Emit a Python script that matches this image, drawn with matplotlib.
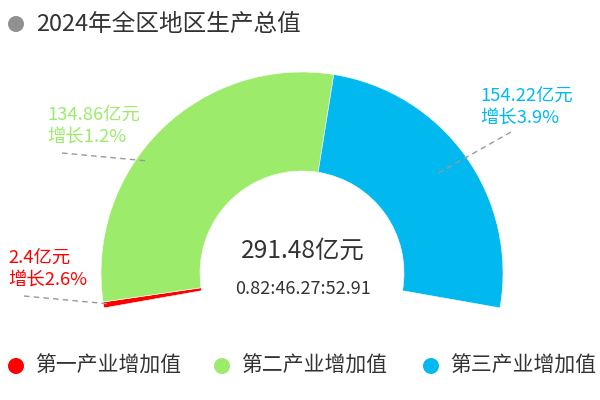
import matplotlib
matplotlib.use("Agg")
import matplotlib.pyplot as plt
from matplotlib.patches import Wedge, Circle
import numpy as np

plt.rcParams['font.family'] = ['Noto Sans CJK SC', 'DejaVu Sans']

# data
title = "2024年全区地区生产总值"
industries = ["第一产业增加值", "第二产业增加值", "第三产业增加值"]
values = [2.4, 134.86, 154.22]          # 亿元
growth = [2.6, 1.2, 3.9]                # %
# share of the 200 degree arc each sector takes, as drawn in the picture
arc_share = [0.85, 53.7, 45.45]
colors = ["#ff0000", "#9ceb6b", "#02b9ef"]

# layout (pixel coords, y measured from the top)
W, H = 600, 400
cx, cy = 302, 273
R_out, R_in = 201, 102
start_angle, span = 190, 200
label_pos = [(8, 258), (47, 115), (480, 96)]
leader = [((24, 296), (110, 304)), ((62, 153), (148, 161)), ((511, 132), (435, 175))]


def py(y):
    return H - y


fig = plt.figure(figsize=(6, 4), dpi=100)
ax = fig.add_axes([0, 0, 1, 1])
ax.set_xlim(0, W)
ax.set_ylim(0, H)
ax.set_aspect('equal')
ax.axis('off')

# title
ax.add_patch(Circle((16, py(24)), 8, color="#909090", lw=0))
ax.text(36, py(24), title, fontsize=17, color="#333333", va='center', ha='left')

# ring
total_share = sum(arc_share)
theta = start_angle
for share, col in zip(arc_share, colors):
    sweep = share / total_share * span
    ax.add_patch(Wedge((cx, py(cy)), R_out, theta - sweep, theta, width=R_out - R_in,
                       facecolor=col, edgecolor='white', lw=0.4))
    theta -= sweep

# labels with dashed leader lines
for i in range(len(values)):
    (x0, y0), (x1, y1) = leader[i]
    ax.plot([x0, x1], [py(y0), py(y1)], color="#999999", lw=1, ls=(0, (4, 3)))
    lx, ly = label_pos[i]
    ax.text(lx, py(ly), f"{values[i]:g}亿元", fontsize=13.2, color=colors[i], va='center', ha='left')
    ax.text(lx, py(ly + 22), f"增长{growth[i]:g}%", fontsize=13.2, color=colors[i], va='center', ha='left')

# centre text
total = sum(values)
pct = [v / total * 100 for v in values]
ax.text(cx + 1, py(251), f"{total:.2f}亿元", fontsize=17.6, color="#333333", ha='center', va='center')
ax.text(cx + 1, py(289), ":".join(f"{p:.2f}" for p in pct), fontsize=13, color="#333333",
        ha='center', va='center')

# legend
legend_x = [16, 222, 431]
for name, col, lx in zip(industries, colors, legend_x):
    ax.add_patch(Circle((lx, py(366)), 8, color=col, lw=0))
    ax.text(lx + 19, py(366), name, fontsize=15, color="#333333", va='center', ha='left')

fig.savefig("out.png", dpi=100)
